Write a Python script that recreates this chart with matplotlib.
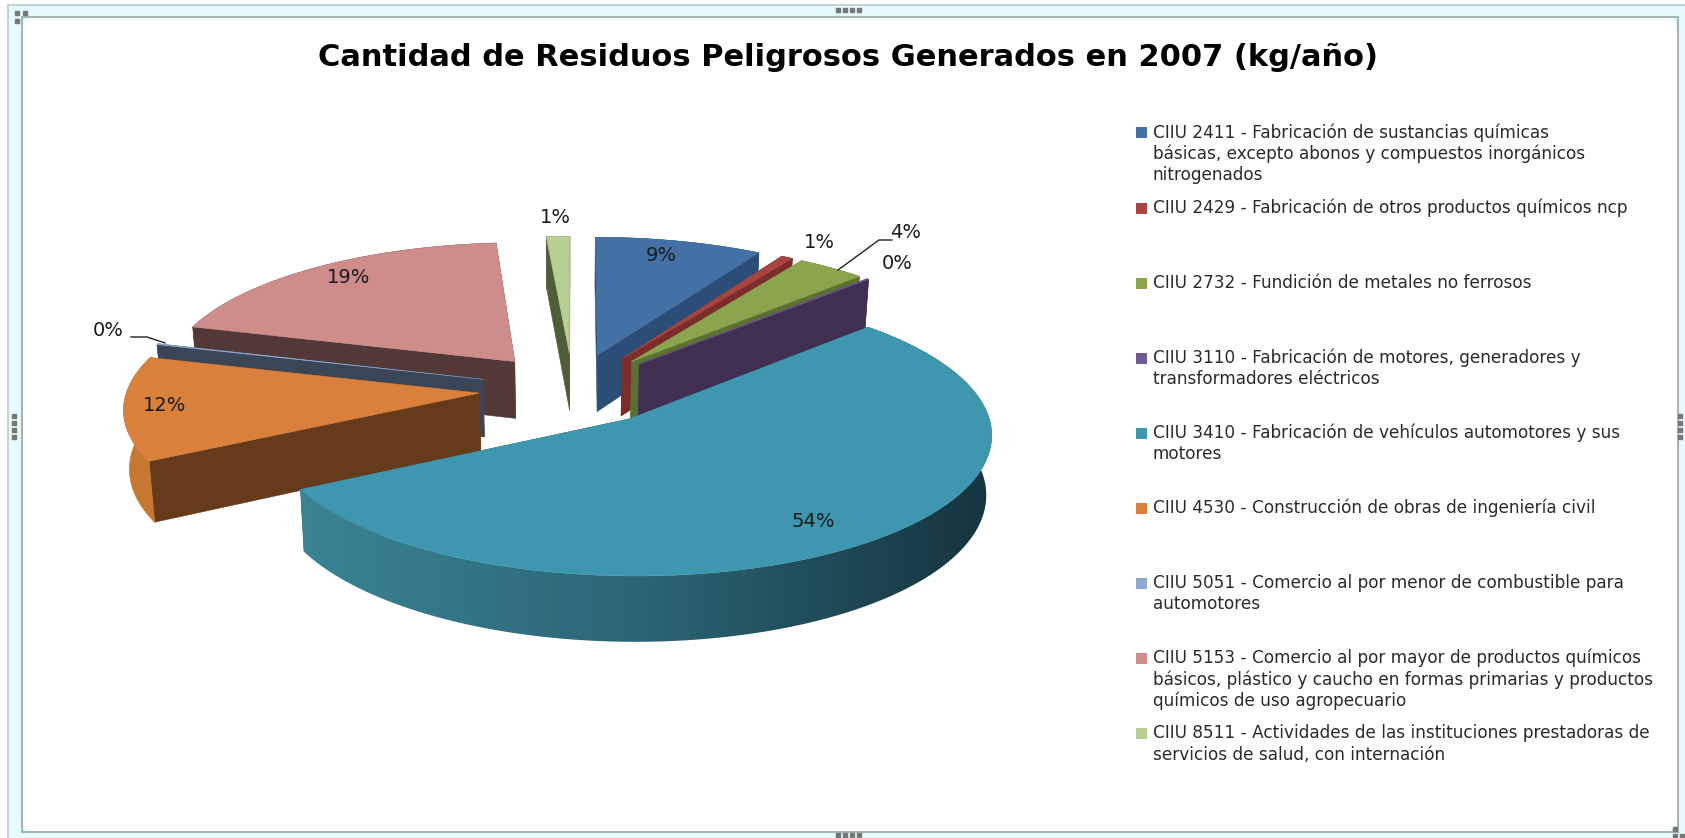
import numpy as np
import matplotlib
matplotlib.use("Agg")
import matplotlib.pyplot as plt
from matplotlib.patches import Rectangle, FancyBboxPatch, Polygon

# ---------- data ----------
title = "Cantidad de Residuos Peligrosos Generados en 2007 (kg/año)"
categories = [
    "CIIU 2411 - Fabricación de sustancias químicas\nbásicas, excepto abonos y compuestos inorgánicos\nnitrogenados",
    "CIIU 2429 - Fabricación de otros productos químicos ncp",
    "CIIU 2732 - Fundición de metales no ferrosos",
    "CIIU 3110 - Fabricación de motores, generadores y\ntransformadores eléctricos",
    "CIIU 3410 - Fabricación de vehículos automotores y sus\nmotores",
    "CIIU 4530 - Construcción de obras de ingeniería civil",
    "CIIU 5051 - Comercio al por menor de combustible para\nautomotores",
    "CIIU 5153 - Comercio al por mayor de productos químicos\nbásicos, plástico y caucho en formas primarias y productos\nquímicos de uso agropecuario",
    "CIIU 8511 - Actividades de las instituciones prestadoras de\nservicios de salud, con internación",
]
shares = [8.6, 0.6, 3.5, 0.1, 54.3, 12.2, 0.1, 19.4, 1.2]

# ---------- style ----------
top_colors = ["#4471A5", "#A84442", "#8AA54E", "#6F5A92", "#3F96AF", "#D8803C", "#8FA9D0", "#CE8D8B", "#B8CF94"]
face_colors = ["#2C4D75", "#7B2D2B", "#5B7033", "#402F53", "#2A6474", "#653B1B", "#3A4558", "#523938", "#4F5E38"]
wall_colors = ["#2C4D75", "#7B2D2B", "#5B7033", "#402F53", None, "#C67830", "#3A4558", "#523938", "#4F5E38"]
legend_colors = ["#4471A5", "#A84442", "#8AA54E", "#6F5A92", "#3F96AF", "#D8803C", "#8FA9D0", "#CE8D8B", "#B8CF94"]
label_xy = [(661, 255), (819, 242), (906, 232), (897, 263), (813, 521), (165, 405), (108, 330), (349, 277), (555, 217)]
FONT = "DejaVu Sans"
CX, CY, SX, SY, PERSP = 573.0, 389.0, 352.0, 135.5, 0.098
H0, SHRINK, EXPLODE = 58.0, 0.987, 0.267

fig = plt.figure(figsize=(16.85, 8.38), dpi=100, facecolor="white")
ax = fig.add_axes([0, 0, 1, 1])
ax.set_xlim(0, 1685)
ax.set_ylim(838, 0)
ax.axis("off")

# frame
ax.add_patch(Rectangle((8, 5), 1690, 850, fc="#E6FBFB", ec="#C6D3D3", lw=1.5))
ax.add_patch(Rectangle((22, 17), 1656, 815, fc="#E6FBFB", ec="#A8B4B4", lw=1.5))
ax.add_patch(FancyBboxPatch((23, 18), 1654, 813, boxstyle="round,pad=0,rounding_size=12",
                            mutation_aspect=1, fc="white", ec="none"))
for xs, ys in [([17, 25, 17], [13, 13, 21]),
               ([838, 845, 852, 859], [10] * 4), ([838, 845, 852, 859], [835] * 4),
               ([14, 14, 14, 14], [416, 423, 430, 437]), ([1680] * 4, [416, 423, 430, 437]),
               ([1675, 1682, 1675], [836, 836, 829])]:
    ax.plot(xs, ys, ls="none", marker="s", ms=2.6, color="#777777", zorder=3)


def top_pt(x, y):
    d = 1 + PERSP * y
    return CX + SX * x / d, CY - SY * y / d


def bottom_pt(x, y):
    u, v = top_pt(x, y)
    return CX + (u - CX) * SHRINK, v + H0 / (1 + PERSP * y)


fracs = np.array(shares) / sum(shares) * 2 * np.pi
ends = np.cumsum(fracs)
starts = ends - fracs
mids = (starts + ends) / 2
off_x, off_y = EXPLODE * np.sin(mids), EXPLODE * np.cos(mids)

grad_cmap = matplotlib.colors.LinearSegmentedColormap.from_list("wall", ["#3A8494", "#2B6475", "#15343D"])

z = 5
for i in np.argsort(-off_y):
    t = np.linspace(starts[i], ends[i], max(int(np.degrees(fracs[i])) * 2, 3))
    wx, wy = off_x[i] + np.sin(t), off_y[i] + np.cos(t)
    ox, oy = off_x[i], off_y[i]
    tops = np.array([top_pt(a, b) for a, b in zip(wx, wy)])
    bots = np.array([bottom_pt(a, b) for a, b in zip(wx, wy)])
    apex_t, apex_b = top_pt(ox, oy), bottom_pt(ox, oy)
    # radial faces
    for k in (0, -1):
        ax.fill([apex_t[0], tops[k, 0], bots[k, 0], apex_b[0]],
                [apex_t[1], tops[k, 1], bots[k, 1], apex_b[1]],
                fc=face_colors[i], ec=face_colors[i], lw=0.4, zorder=z)
    # outer wall
    wall = np.vstack([tops, bots[::-1]])
    if wall_colors[i] is None:
        poly = Polygon(wall, closed=True, fc="none", ec="none", transform=ax.transData)
        ax.add_patch(poly)
        x0, x1 = wall[:, 0].min(), wall[:, 0].max()
        y0, y1 = wall[:, 1].min(), wall[:, 1].max()
        im = ax.imshow(np.linspace(0, 1, 256)[None, :], extent=(x0, x1, y1, y0), cmap=grad_cmap,
                       aspect="auto", zorder=z, interpolation="bilinear")
        im.set_clip_path(poly)
        ax.set_xlim(0, 1685)
        ax.set_ylim(838, 0)
    else:
        ax.fill(wall[:, 0], wall[:, 1], fc=wall_colors[i], ec=wall_colors[i], lw=0.4, zorder=z)
    # top
    ax.fill(np.r_[apex_t[0], tops[:, 0]], np.r_[apex_t[1], tops[:, 1]],
            fc=top_colors[i], ec=top_colors[i], lw=0.4, zorder=z + 0.5)
    z += 1

# leader lines
ax.plot([838, 879, 892], [270, 240, 240], color="#222222", lw=1, zorder=30)
ax.plot([131, 147, 165], [337, 337, 343], color="#222222", lw=1, zorder=30)

# data labels
for v, (x, y) in zip(shares, label_xy):
    ax.text(x, y, f"{v:.0f}%", ha="center", va="center", fontsize=14, color="#1a1a1a",
            family=FONT, zorder=40)

# title
ax.text(848, 57, title, ha="center", va="center", fontsize=22, fontweight="bold",
        family=FONT, color="black", zorder=40)

# legend
for i, (lab, col) in enumerate(zip(categories, legend_colors)):
    y = 132.5 + i * 75.1
    ax.add_patch(Rectangle((1136, y - 5), 11, 11, fc=col, ec="none", zorder=40))
    for j, line in enumerate(lab.split("\n")):
        ax.text(1153, y + j * 21.3, line, ha="left", va="center", fontsize=12.2,
                family=FONT, color="#2a2a2a", zorder=40)

fig.savefig("out.png", dpi=100)
